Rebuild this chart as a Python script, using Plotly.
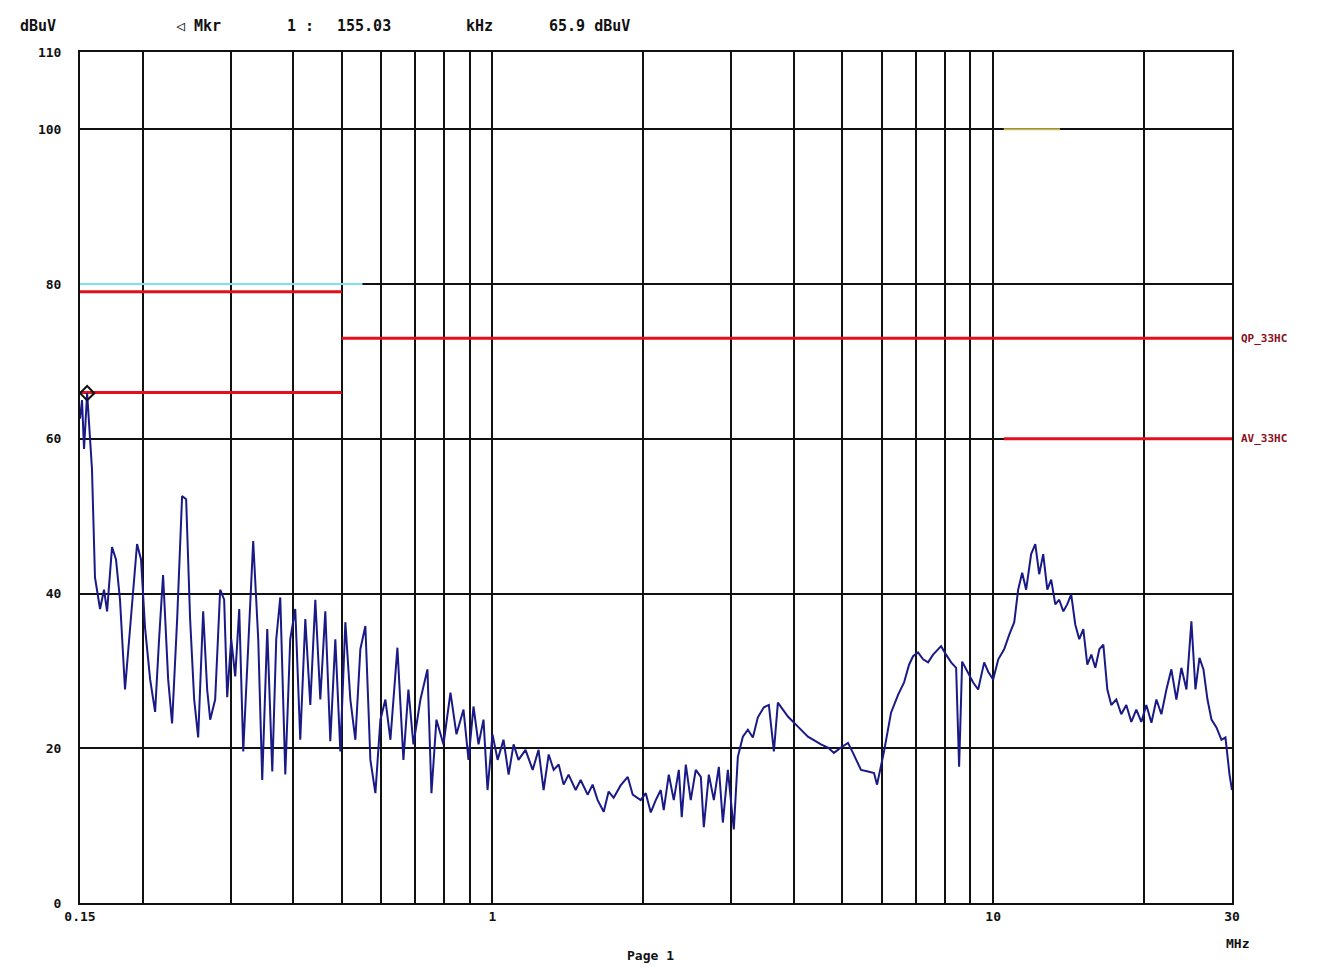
import math
import plotly.graph_objects as go

# Conducted emission scan, 150 kHz - 30 MHz (MHz / dBuV)
freq_mhz = [
    0.150, 0.1514, 0.1528, 0.1550, 0.1585, 0.1607, 0.1645, 0.1675, 0.1699, 0.1738,
    0.1770, 0.1803, 0.1845, 0.1897, 0.1950, 0.1986, 0.2023, 0.2071, 0.2119, 0.2158,
    0.2198, 0.2250, 0.2291, 0.2345, 0.2399, 0.2444, 0.2489, 0.2536, 0.2583, 0.2643,
    0.2692, 0.2730, 0.2793, 0.2858, 0.2911, 0.2952, 0.3007, 0.3063, 0.3120, 0.3178,
    0.3252, 0.3327, 0.3405, 0.3468, 0.3549, 0.3632, 0.3699, 0.3768, 0.3856, 0.3945,
    0.4037, 0.4131, 0.4228, 0.4326, 0.4427, 0.4530, 0.4635, 0.4743, 0.4854, 0.4967,
    0.5083, 0.5201, 0.5322, 0.5446, 0.5573, 0.5703, 0.5836, 0.5972, 0.6111, 0.6253,
    0.6458, 0.6639, 0.6793, 0.6952, 0.7179, 0.7415, 0.7552, 0.7728, 0.7982, 0.8243,
    0.8474, 0.8752, 0.8956, 0.9164, 0.9378, 0.9596, 0.9774, 1.000, 1.024, 1.052,
    1.077, 1.102, 1.127, 1.164, 1.203, 1.236, 1.265, 1.295, 1.325, 1.356,
    1.387, 1.419, 1.466, 1.500, 1.549, 1.585, 1.622, 1.668, 1.706, 1.746,
    1.803, 1.863, 1.906, 1.977, 2.024, 2.071, 2.119, 2.168, 2.198, 2.250,
    2.302, 2.356, 2.388, 2.433, 2.489, 2.547, 2.607, 2.643, 2.705, 2.768,
    2.832, 2.885, 2.952, 3.034, 3.091, 3.163, 3.237, 3.312, 3.389, 3.484,
    3.565, 3.648, 3.716, 3.803, 3.891, 4.075, 4.267, 4.427, 4.530, 4.678,
    4.809, 4.967, 5.130, 5.249, 5.446, 5.625, 5.782, 5.863, 6.055, 6.253,
    6.458, 6.639, 6.793, 6.920, 7.081, 7.246, 7.415, 7.587, 7.764, 7.872,
    8.055, 8.243, 8.435, 8.552, 8.672, 8.914, 9.122, 9.335, 9.596, 9.774,
    10.00, 10.24, 10.52, 10.77, 11.02, 11.22, 11.43, 11.64, 11.91, 12.14,
    12.36, 12.59, 12.83, 13.06, 13.31, 13.55, 13.81, 14.06, 14.32, 14.59,
    14.86, 15.14, 15.42, 15.71, 16.00, 16.30, 16.60, 16.91, 17.22, 17.62,
    18.03, 18.45, 18.88, 19.32, 19.77, 20.23, 20.71, 21.19, 21.68, 22.19,
    22.70, 23.23, 23.77, 24.33, 24.89, 25.36, 25.83, 26.31, 26.80, 27.30,
    27.93, 28.58, 29.11, 29.66, 30.00,
]
level_dbuv = [
    62.6, 65.0, 58.7, 65.9, 56.1, 42.1, 38.0, 40.5, 37.7, 46.0,
    44.4, 39.2, 27.6, 36.7, 46.4, 44.4, 35.6, 28.9, 24.7, 34.1,
    42.4, 28.9, 23.2, 36.7, 52.6, 52.2, 36.7, 26.3, 21.4, 37.7,
    27.6, 23.7, 26.3, 40.5, 39.2, 26.6, 34.1, 29.3, 38.0, 19.6,
    34.1, 46.8, 34.1, 15.9, 35.4, 17.0, 34.1, 39.5, 16.6, 34.1,
    38.0, 21.1, 36.7, 25.6, 39.2, 26.3, 37.7, 20.9, 34.1, 19.6,
    36.3, 26.3, 21.1, 32.8, 35.8, 18.5, 14.2, 23.7, 26.3, 21.1,
    33.0, 18.5, 27.6, 20.5, 26.3, 30.2, 14.2, 23.7, 20.5, 27.2,
    21.8, 25.0, 18.5, 25.4, 20.5, 23.7, 14.6, 21.8, 18.5, 21.1,
    16.6, 20.5, 18.5, 19.8, 17.2, 19.8, 14.6, 19.2, 17.2, 17.9,
    15.3, 16.6, 14.6, 15.9, 14.0, 15.3, 13.3, 11.8, 14.4, 13.6,
    15.2, 16.3, 14.0, 13.3, 14.2, 11.7, 13.3, 14.6, 12.0, 16.6,
    13.3, 17.2, 11.1, 17.9, 13.3, 17.2, 16.3, 9.8, 16.6, 13.3,
    17.6, 10.4, 17.2, 9.5, 18.9, 21.5, 22.4, 21.4, 24.0, 25.3,
    25.6, 19.6, 25.9, 25.0, 24.1, 22.8, 21.5, 20.9, 20.5, 20.1,
    19.4, 20.1, 20.7, 19.4, 17.2, 17.0, 16.8, 15.3, 19.6, 24.6,
    26.9, 28.5, 30.8, 31.9, 32.4, 31.5, 31.1, 32.1, 32.8, 33.2,
    32.1, 31.1, 30.4, 17.6, 31.2, 29.8, 28.5, 27.6, 31.1, 29.9,
    28.9, 31.5, 32.8, 34.7, 36.3, 40.5, 42.7, 40.5, 45.1, 46.4,
    42.5, 45.1, 40.5, 41.8, 38.6, 39.2, 37.7, 38.6, 39.9, 36.0,
    34.1, 35.4, 30.8, 32.1, 30.4, 32.8, 33.4, 27.6, 25.6, 26.3,
    24.4, 25.6, 23.4, 25.0, 23.4, 25.6, 23.3, 26.3, 24.4, 27.6,
    30.2, 26.3, 30.4, 27.6, 36.4, 27.6, 31.7, 30.2, 26.3, 23.7,
    22.7, 21.1, 21.4, 16.6, 14.6,
]

# Limit lines (class A style): quasi-peak and average
qp_freq = [0.15, 0.5, None, 0.5, 30.0]
qp_level = [79, 79, None, 73, 73]
av_freq = [0.15, 0.5, None, 10.5, 30.0]
av_level = [66, 66, None, 60, 60]

# Marker 1
mkr_freq = 0.155
mkr_level = 65.9

x_ticks = [0.15, 1, 10, 30]
x_tick_text = ["0.15", "1", "10", "30"]
x_minor = [0.2, 0.3, 0.4, 0.5, 0.6, 0.7, 0.8, 0.9, 2, 3, 4, 5, 6, 7, 8, 9, 20]
y_ticks = [0, 20, 40, 60, 80, 100, 110]

font_main = dict(family="DejaVu Sans Mono", size=13, color="#111111", weight="bold")
font_head = dict(family="DejaVu Sans Mono", size=15, color="#111111", weight="bold")

fig = go.Figure()

# faint auxiliary lines
fig.add_trace(go.Scatter(x=[0.15, 0.55], y=[80, 80], mode="lines",
                         line=dict(color="#7fe0f0", width=2), hoverinfo="skip", showlegend=False))
fig.add_trace(go.Scatter(x=[10.5, 13.6], y=[100, 100], mode="lines",
                         line=dict(color="#c8b850", width=2), hoverinfo="skip", showlegend=False))

fig.add_trace(go.Scatter(x=qp_freq, y=qp_level, mode="lines", name="QP",
                         line=dict(color="#e3101c", width=3), showlegend=False))
fig.add_trace(go.Scatter(x=av_freq, y=av_level, mode="lines", name="AV",
                         line=dict(color="#e3101c", width=3), showlegend=False))

fig.add_trace(go.Scatter(x=freq_mhz, y=level_dbuv, mode="lines", name="Trace 1",
                         line=dict(color="#1a1a86", width=2), showlegend=False))

fig.add_trace(go.Scatter(x=[mkr_freq], y=[mkr_level], mode="markers",
                         marker=dict(symbol="diamond-open", size=11, color="#111111",
                                     line=dict(color="#111111", width=2)),
                         showlegend=False))

fig.update_xaxes(
    type="log", range=[math.log10(0.15), math.log10(30)],
    tickmode="array", tickvals=x_ticks, ticktext=x_tick_text,
    showgrid=True, gridcolor="#111111", gridwidth=2,
    minor=dict(tickmode="array", tickvals=x_minor, showgrid=True,
               gridcolor="#111111", gridwidth=2, ticks=""),
    showline=True, linecolor="#111111", linewidth=2, mirror=True,
    ticks="", tickfont=font_main, zeroline=False,
)
fig.update_yaxes(
    range=[0, 110], tickmode="array", tickvals=y_ticks,
    showgrid=True, gridcolor="#111111", gridwidth=2,
    showline=True, linecolor="#111111", linewidth=2, mirror=True,
    ticks="", tickfont=font_main, zeroline=False, ticklabelstandoff=14,
)

annots = [
    dict(text="dBuV", x=-0.054, y=1.03, xanchor="left"),
    dict(text="\u25c1 Mkr", x=0.082, y=1.03, xanchor="left"),
    dict(text="1 :", x=0.178, y=1.03, xanchor="left"),
    dict(text="155.03", x=0.221, y=1.03, xanchor="left"),
    dict(text="kHz", x=0.333, y=1.03, xanchor="left"),
    dict(text="65.9 dBuV", x=0.405, y=1.03, xanchor="left"),
]
for a in annots:
    fig.add_annotation(xref="paper", yref="paper", showarrow=False,
                       yanchor="middle", font=font_head, **a)

for a in [dict(text="MHz", x=1.005, y=-0.048), dict(text="Page 1", x=0.495, y=-0.062)]:
    fig.add_annotation(xref="paper", yref="paper", showarrow=False,
                       xanchor="center", yanchor="middle", font=font_main, **a)

for lbl, lv in [("QP_33HC", 73), ("AV_33HC", 60)]:
    fig.add_annotation(xref="paper", yref="y", x=1.006, y=lv, text=lbl,
                       xanchor="left", yanchor="middle", showarrow=False,
                       font=dict(family="DejaVu Sans Mono", size=11,
                                 color="#8a1020", weight="bold"))

fig.update_layout(
    width=1342, height=968,
    margin=dict(l=80, r=110, t=52, b=65),
    paper_bgcolor="white", plot_bgcolor="white",
    showlegend=False,
)

fig.write_html("out.html")
